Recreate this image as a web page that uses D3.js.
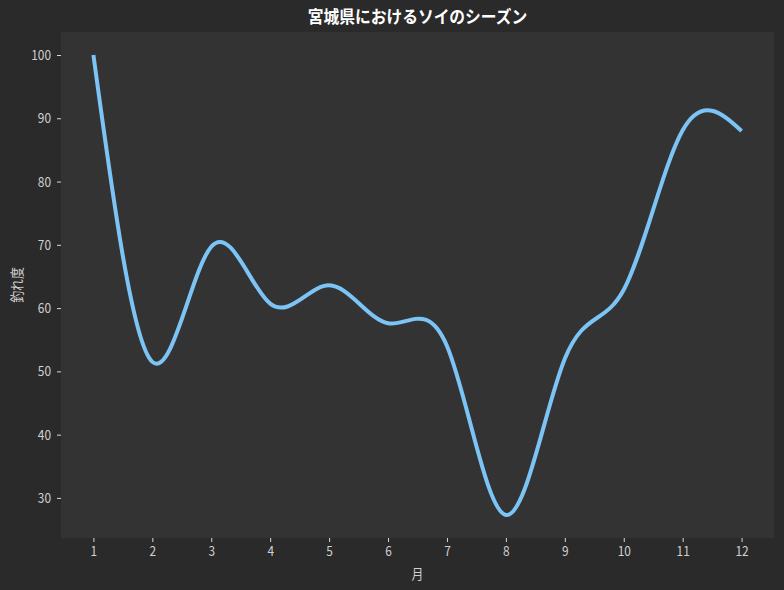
<!DOCTYPE html>
<html><head><meta charset="utf-8">
<script src="https://cdn.jsdelivr.net/npm/d3@7"></script>
<style>
html,body{margin:0;padding:0;background:#2a2a2a;}
text{font-family:"Noto Sans CJK JP","Noto Sans",sans-serif;}
</style></head>
<body>
<svg id="c" width="784" height="590"></svg>
<script>
const months = [1,2,3,4,5,6,7,8,9,10,11,12];
const scores = [100,51.5,69.7,60.7,63.6,57.6,54,27.3,52,62.9,88.1,88.0];
const monthTicks = [1,2,3,4,5,6,7,8,9,10,11,12];
const scoreTicks = [30,40,50,60,70,80,90,100];
const title = "宮城県におけるソイのシーズン";
const xLabel = "月";
const yLabel = "釣れ度";

const W=784,H=590, m={l:61,r:10,t:32,b:52};
const SX=0.85;
const svg=d3.select("#c");
svg.append("rect").attr("width",W).attr("height",H).attr("fill","#2a2a2a");
const lo=d3.min(scores), hi=d3.max(scores), pad=(hi-lo)*0.05;
const x=d3.scaleLinear().domain([1-0.55,12+0.55]).range([m.l,W-m.r]);
const y=d3.scaleLinear().domain([lo-pad,hi+pad]).range([H-m.b,m.t]);
svg.append("rect").attr("x",m.l).attr("y",m.t).attr("width",W-m.r-m.l).attr("height",H-m.b-m.t).attr("fill","#333333");

const xa=svg.append("g").attr("transform",`translate(0,${H-m.b})`)
 .call(d3.axisBottom(x).tickValues(monthTicks).tickSize(4).tickPadding(4).tickFormat(d3.format("d")));
const ya=svg.append("g").attr("transform",`translate(${m.l},0)`)
 .call(d3.axisLeft(y).tickValues(scoreTicks).tickSize(4).tickPadding(6).tickFormat(d3.format("d")));
[xa,ya].forEach(g=>{g.select(".domain").remove();
 g.selectAll("line").attr("stroke","#d8d8d8");
 g.selectAll("text").attr("fill","#d0d0d0").style("font-size","14px")
  .each(function(){const t=d3.select(this);const x0=+t.attr("x")||0;const y0=+t.attr("y")||0;
    t.attr("x",0).attr("y",0).attr("transform",`translate(${x0},${y0}) scale(${SX},1)`);});});

const line=d3.line().x((d,i)=>x(months[i])).y(d=>y(d)).curve(d3.curveNatural);
svg.append("path").datum(scores).attr("d",line).attr("fill","none")
 .attr("stroke","#7cc4f6").attr("stroke-width",4).attr("stroke-linecap","butt");

svg.append("text").attr("transform",`translate(${(m.l+W-m.r)/2},23) scale(0.9,1)`).attr("text-anchor","middle")
 .attr("fill","#ffffff").style("font-size","17.5px").style("font-weight","bold").text(title);
svg.append("text").attr("transform",`translate(${(m.l+W-m.r)/2},579) scale(${SX},1)`).attr("text-anchor","middle")
 .attr("fill","#d0d0d0").style("font-size","14px").text(xLabel);
svg.append("text").attr("transform",`translate(22,${(m.t+H-m.b)/2}) rotate(-90) scale(${SX},1)`).attr("text-anchor","middle")
 .attr("fill","#d0d0d0").style("font-size","14px").text(yLabel);
</script>
</body></html>
